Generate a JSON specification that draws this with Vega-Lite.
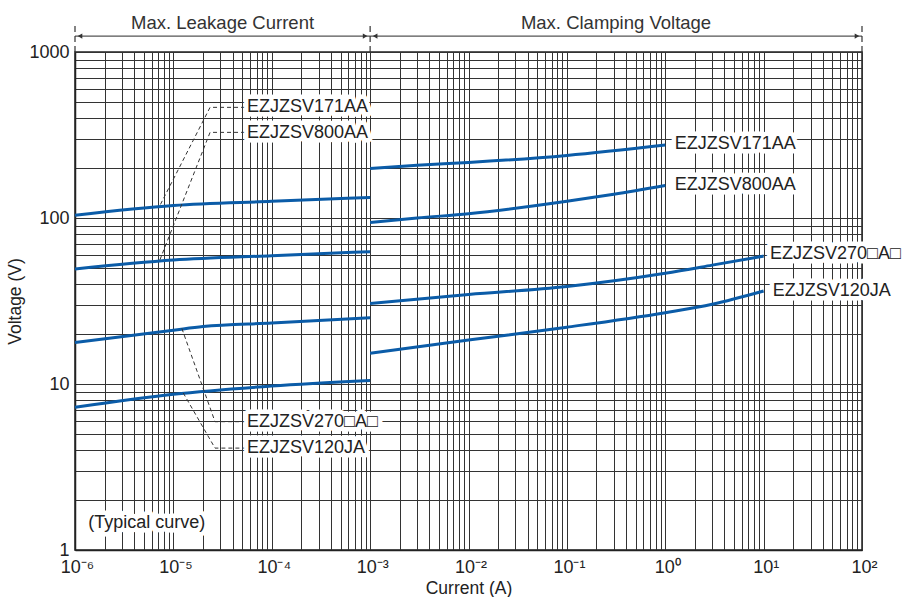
{
  "$schema": "https://vega.github.io/schema/vega-lite/v6.json",
  "width": 787,
  "height": 498,
  "autosize": {"type": "none"},
  "padding": {"left": 75, "top": 52, "right": 52, "bottom": 47},
  "background": "white",
  "config": {
    "font": "Liberation Sans",
    "view": {"stroke": "#222", "strokeWidth": 1.5}
  },
  "datasets": {
    "curves": [
      {"id": "171L", "current": 1e-6, "voltage": 104},
      {"id": "171L", "current": 1e-5, "voltage": 119},
      {"id": "171L", "current": 1e-4, "voltage": 126},
      {"id": "171L", "current": 1e-3, "voltage": 133},
      {"id": "800L", "current": 1e-6, "voltage": 49.3},
      {"id": "800L", "current": 1e-5, "voltage": 55.8},
      {"id": "800L", "current": 1e-4, "voltage": 59.3},
      {"id": "800L", "current": 1e-3, "voltage": 62.7},
      {"id": "270L", "current": 1e-6, "voltage": 17.8},
      {"id": "270L", "current": 1e-5, "voltage": 21.1},
      {"id": "270L", "current": 2e-5, "voltage": 22.2},
      {"id": "270L", "current": 1e-4, "voltage": 23.3},
      {"id": "270L", "current": 1e-3, "voltage": 25.1},
      {"id": "120L", "current": 1e-6, "voltage": 7.24},
      {"id": "120L", "current": 1e-5, "voltage": 8.67},
      {"id": "120L", "current": 1e-4, "voltage": 9.72},
      {"id": "120L", "current": 1e-3, "voltage": 10.5},
      {"id": "171C", "current": 1e-3, "voltage": 199},
      {"id": "171C", "current": 0.003, "voltage": 208},
      {"id": "171C", "current": 0.01, "voltage": 216},
      {"id": "171C", "current": 0.1, "voltage": 238},
      {"id": "171C", "current": 1, "voltage": 275},
      {"id": "800C", "current": 1e-3, "voltage": 93.8},
      {"id": "800C", "current": 0.003, "voltage": 100},
      {"id": "800C", "current": 0.01, "voltage": 106},
      {"id": "800C", "current": 0.1, "voltage": 126},
      {"id": "800C", "current": 0.3, "voltage": 139},
      {"id": "800C", "current": 1, "voltage": 157},
      {"id": "270C", "current": 1e-3, "voltage": 30.5},
      {"id": "270C", "current": 0.01, "voltage": 34.6},
      {"id": "270C", "current": 0.1, "voltage": 38.7},
      {"id": "270C", "current": 1, "voltage": 46.5},
      {"id": "270C", "current": 3, "voltage": 52},
      {"id": "270C", "current": 10, "voltage": 59},
      {"id": "120C", "current": 1e-3, "voltage": 15.3},
      {"id": "120C", "current": 0.01, "voltage": 18.4},
      {"id": "120C", "current": 0.1, "voltage": 22},
      {"id": "120C", "current": 1, "voltage": 26.9},
      {"id": "120C", "current": 3, "voltage": 30.2},
      {"id": "120C", "current": 10, "voltage": 36.3}
    ],
    "leaders": [
      {"id": "L171", "ord": 0, "current": 5.35e-5, "voltage": 464},
      {"id": "L171", "ord": 1, "current": 2.36e-5, "voltage": 464},
      {"id": "L171", "ord": 2, "current": 7.3e-6, "voltage": 119},
      {"id": "L800", "ord": 0, "current": 5.35e-5, "voltage": 328},
      {"id": "L800", "ord": 1, "current": 2.36e-5, "voltage": 328},
      {"id": "L800", "ord": 2, "current": 7.3e-6, "voltage": 56},
      {"id": "L270", "ord": 0, "current": 1.22e-5, "voltage": 21.6},
      {"id": "L270", "ord": 1, "current": 2.65e-5, "voltage": 5.93},
      {"id": "L270", "ord": 2, "current": 5.35e-5, "voltage": 5.93},
      {"id": "L120", "ord": 0, "current": 1.26e-5, "voltage": 8.83},
      {"id": "L120", "ord": 1, "current": 2.65e-5, "voltage": 4.11},
      {"id": "L120", "ord": 2, "current": 5.35e-5, "voltage": 4.11}
    ],
    "labels": [
      {"text": "EZJZSV171AA", "current": 5.6e-5, "voltage": 464},
      {"text": "EZJZSV800AA", "current": 5.6e-5, "voltage": 326},
      {"text": "EZJZSV270□A□", "current": 5.6e-5, "voltage": 5.93},
      {"text": "EZJZSV120JA", "current": 5.6e-5, "voltage": 4.11},
      {"text": "EZJZSV171AA", "current": 1.25, "voltage": 279},
      {"text": "EZJZSV800AA", "current": 1.25, "voltage": 158},
      {"text": "EZJZSV270□A□", "current": 11.6, "voltage": 60.7},
      {"text": "EZJZSV120JA", "current": 12.4, "voltage": 36.3},
      {"text": "(Typical curve)", "current": 1.36e-6, "voltage": 1.46}
    ],
    "spans": [
      {"current": 1e-6, "current2": 1e-3, "voltage": 1248},
      {"current": 1e-3, "current2": 100, "voltage": 1248}
    ],
    "bounds": [
      {"current": 1e-6, "voltage": 1000, "voltage2": 1517},
      {"current": 1e-3, "voltage": 1000, "voltage2": 1517},
      {"current": 100, "voltage": 1000, "voltage2": 1517}
    ],
    "arrowsL": [
      {"current": 1e-6, "voltage": 1248},
      {"current": 1e-3, "voltage": 1248}
    ],
    "arrowsR": [
      {"current": 1e-3, "voltage": 1248},
      {"current": 100, "voltage": 1248}
    ],
    "titles": [
      {"text": "Max. Leakage Current", "current": 3.16e-5, "voltage": 1496},
      {"text": "Max. Clamping Voltage", "current": 0.316, "voltage": 1496}
    ]
  },
  "encoding": {
    "x": {
      "field": "current",
      "type": "quantitative",
      "scale": {"type": "log", "domain": [1e-6, 100], "nice": false},
      "axis": {
        "title": "Current (A)",
        "titleFontSize": 17.5,
        "titleFontWeight": "normal",
        "titleColor": "#222",
        "titlePadding": 3,
        "values": [1e-6, 2e-6, 3e-6, 4e-6, 5e-6, 6e-6, 7e-6, 8e-6, 9e-6,
                   1e-5, 2e-5, 3e-5, 4e-5, 5e-5, 6e-5, 7e-5, 8e-5, 9e-5,
                   1e-4, 2e-4, 3e-4, 4e-4, 5e-4, 6e-4, 7e-4, 8e-4, 9e-4,
                   1e-3, 2e-3, 3e-3, 4e-3, 5e-3, 6e-3, 7e-3, 8e-3, 9e-3,
                   0.01, 0.02, 0.03, 0.04, 0.05, 0.06, 0.07, 0.08, 0.09,
                   0.1, 0.2, 0.3, 0.4, 0.5, 0.6, 0.7, 0.8, 0.9,
                   1, 2, 3, 4, 5, 6, 7, 8, 9,
                   10, 20, 30, 40, 50, 60, 70, 80, 90, 100],
        "labelExpr": "abs(log(datum.value)/LN10 - round(log(datum.value)/LN10)) < 0.001 ? '10' + ['⁻⁶','⁻⁵','⁻⁴','⁻³','⁻²','⁻¹','⁰','¹','²'][round(log(datum.value)/LN10)+6] : ''",
        "labelFontSize": 18,
        "labelColor": "#222",
        "labelFlush": false,
        "labelOverlap": false,
        "labelBound": false,
        "labelPadding": 8,
        "labelOffset": 2,
        "ticks": false,
        "grid": true,
        "gridColor": "#333",
        "gridWidth": 1,
        "gridOpacity": 1,
        "domainColor": "#222",
        "domainWidth": 1.5
      }
    },
    "y": {
      "field": "voltage",
      "type": "quantitative",
      "scale": {"type": "log", "domain": [1, 1000], "nice": false},
      "axis": {
        "title": "Voltage (V)",
        "titleFontSize": 17.5,
        "titleFontWeight": "normal",
        "titleColor": "#222",
        "titlePadding": 4,
        "values": [1, 2, 3, 4, 5, 6, 7, 8, 9,
                   10, 20, 30, 40, 50, 60, 70, 80, 90,
                   100, 200, 300, 400, 500, 600, 700, 800, 900, 1000],
        "labelExpr": "abs(log(datum.value)/LN10 - round(log(datum.value)/LN10)) < 0.001 ? format(datum.value, 'd') : ''",
        "labelFontSize": 18,
        "labelColor": "#222",
        "labelFlush": false,
        "labelOverlap": false,
        "labelBound": false,
        "labelPadding": 6,
        "ticks": false,
        "grid": true,
        "gridColor": "#333",
        "gridWidth": 1,
        "gridOpacity": 1,
        "domainColor": "#222",
        "domainWidth": 1.5
      }
    }
  },
  "layer": [
    {
      "data": {"name": "curves"},
      "mark": {"type": "line", "color": "#0b5ca8", "strokeWidth": 3, "interpolate": "monotone"},
      "encoding": {"detail": {"field": "id"}}
    },
    {
      "data": {"name": "leaders"},
      "mark": {"type": "line", "color": "#333", "strokeWidth": 1, "strokeDash": [4, 3]},
      "encoding": {"detail": {"field": "id"}, "order": {"field": "ord", "type": "quantitative"}}
    },
    {
      "data": {"name": "labels"},
      "mark": {"type": "text", "align": "left", "baseline": "middle", "fontSize": 18, "fill": "white", "stroke": "white", "strokeWidth": 9, "strokeJoin": "round"},
      "encoding": {"text": {"field": "text"}}
    },
    {
      "data": {"name": "labels"},
      "mark": {"type": "text", "align": "left", "baseline": "middle", "fontSize": 18, "color": "#222"},
      "encoding": {"text": {"field": "text"}}
    },
    {
      "data": {"name": "spans"},
      "mark": {"type": "rule", "color": "#555", "strokeWidth": 1.2},
      "encoding": {"x2": {"field": "current2"}}
    },
    {
      "data": {"name": "bounds"},
      "mark": {"type": "rule", "color": "#333", "strokeWidth": 1.2, "strokeDash": [6, 4]},
      "encoding": {"y2": {"field": "voltage2"}}
    },
    {
      "data": {"name": "arrowsL"},
      "mark": {"type": "point", "shape": "triangle-left", "filled": true, "color": "#333", "size": 28, "opacity": 1, "xOffset": 5},
      "encoding": {}
    },
    {
      "data": {"name": "arrowsR"},
      "mark": {"type": "point", "shape": "triangle-right", "filled": true, "color": "#333", "size": 28, "opacity": 1, "xOffset": -5},
      "encoding": {}
    },
    {
      "data": {"name": "titles"},
      "mark": {"type": "text", "align": "center", "baseline": "middle", "fontSize": 18.5, "color": "#333"},
      "encoding": {"text": {"field": "text"}}
    }
  ]
}
